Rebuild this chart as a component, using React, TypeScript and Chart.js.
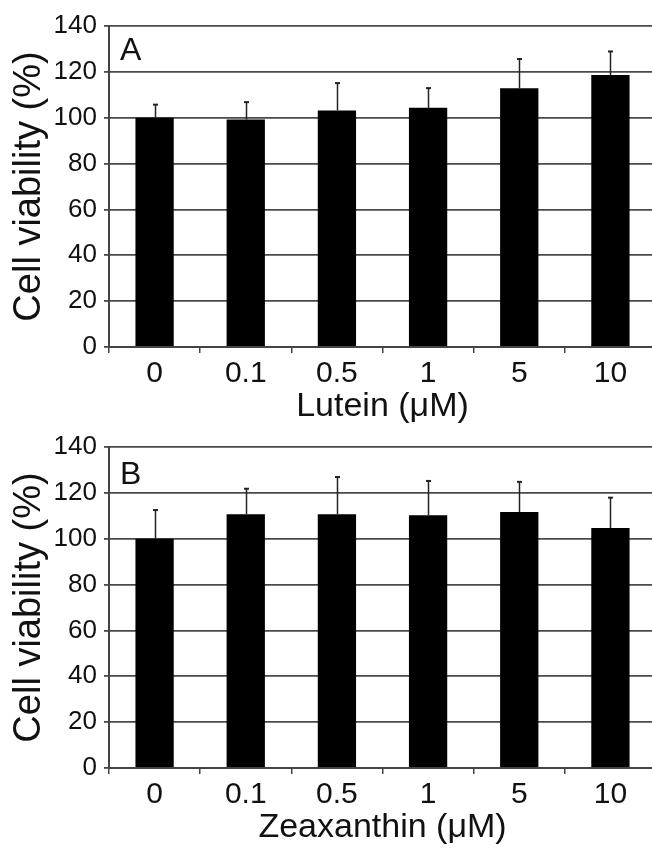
import React, { useEffect, useRef } from "react";
import { Chart, registerables } from "chart.js";

Chart.register(...registerables);

// ---- data ----
const categories = ["0", "0.1", "0.5", "1", "5", "10"];
const luteinValues = [100, 99.2, 103.2, 104.3, 112.8, 118.6];
const luteinErrors = [5.7, 7.6, 11.9, 8.6, 12.8, 10.3];
const zeaxanthinValues = [100, 110.7, 110.7, 110.2, 111.6, 104.7];
const zeaxanthinErrors = [12.5, 11.1, 16.2, 15.0, 13.2, 13.2];
const yMin = 0;
const yMax = 140;
const yStep = 20;
const yTitle = "Cell viability (%)";
const panelATitle = "Lutein (μM)";
const panelBTitle = "Zeaxanthin (μM)";

const FONT = "'Liberation Sans', Arial, Helvetica, sans-serif";

const errorBarPlugin = {
  id: "errorBars",
  afterDatasetsDraw(chart: any, _args: any, opts: any) {
    const errs: number[] = opts.errors || [];
    const meta = chart.getDatasetMeta(0);
    const yScale = chart.scales.y;
    const ctx = chart.ctx;
    const data = chart.data.datasets[0].data as number[];
    ctx.save();
    ctx.strokeStyle = "#222";
    ctx.lineWidth = 1.5;
    meta.data.forEach((bar: any, i: number) => {
      const topPx = yScale.getPixelForValue(data[i] + errs[i]);
      const x = Math.round(bar.x) + 0.5;
      ctx.beginPath();
      ctx.moveTo(x, bar.y);
      ctx.lineTo(x, topPx);
      ctx.stroke();
      ctx.beginPath();
      ctx.lineWidth = 2;
      ctx.moveTo(x - 2.5, topPx);
      ctx.lineTo(x + 2.5, topPx);
      ctx.stroke();
      ctx.lineWidth = 1.5;
    });
    ctx.restore();
  },
};

const panelLabelPlugin = {
  id: "panelLabel",
  afterDraw(chart: any, _args: any, opts: any) {
    const ctx = chart.ctx;
    const area = chart.chartArea;
    ctx.save();
    ctx.fillStyle = "#111";
    ctx.font = `32px ${FONT}`;
    ctx.textAlign = "left";
    ctx.textBaseline = "alphabetic";
    ctx.fillText(opts.text, area.left + 11, area.top + opts.dy);
    ctx.restore();
  },
};

type PanelProps = {
  top: number;
  label: string;
  labelDy: number;
  xTitle: string;
  values: number[];
  errors: number[];
};

function Panel({ top, label, labelDy, xTitle, values, errors }: PanelProps) {
  const ref = useRef<HTMLCanvasElement>(null);
  useEffect(() => {
    const chart = new Chart(ref.current as HTMLCanvasElement, {
      type: "bar",
      data: {
        labels: categories,
        datasets: [
          {
            data: values,
            backgroundColor: "#000",
            borderWidth: 0,
            barPercentage: 0.42,
            categoryPercentage: 1,
          },
        ],
      },
      plugins: [errorBarPlugin, panelLabelPlugin],
      options: {
        responsive: false,
        animation: false,
        devicePixelRatio: 1,
        layout: { padding: { top: 26, right: 4, left: 0, bottom: 0 } },
        plugins: {
          legend: { display: false },
          tooltip: { enabled: false },
          errorBars: { errors },
          panelLabel: { text: label, dy: labelDy },
        } as any,
        scales: {
          x: {
            grid: {
              display: true,
              drawOnChartArea: false,
              drawTicks: true,
              tickLength: 6,
              color: "#444",
              lineWidth: 1.5,
              offset: true,
            },
            border: { display: true, color: "#444", width: 2 },
            ticks: {
              font: { family: FONT, size: 30 },
              color: "#111",
              padding: 3,
              maxRotation: 0,
              autoSkip: false,
            },
            title: {
              display: true,
              text: xTitle,
              font: { family: FONT, size: 34 },
              color: "#111",
              padding: { top: 0, bottom: 0 },
            },
            afterFit: (s: any) => {
              s.height = 80;
            },
          },
          y: {
            min: yMin,
            max: yMax,
            ticks: {
              stepSize: yStep,
              font: { family: FONT, size: 26 },
              color: "#111",
              padding: 7,
            },
            grid: {
              color: "#4a4a4a",
              lineWidth: 1.8,
              tickLength: 5,
              drawTicks: true,
            },
            border: { display: true, color: "#444", width: 2 },
            title: {
              display: true,
              text: yTitle,
              font: { family: FONT, size: 38 },
              color: "#111",
              padding: { top: 7, bottom: 0 },
            },
            afterFit: (s: any) => {
              s.width = 109;
            },
          },
        },
      },
    });
    return () => chart.destroy();
  }, []);
  return (
    <div style={{ position: "absolute", left: 0, top, width: 660, height: 427 }}>
      <canvas ref={ref} width={660} height={427} style={{ display: "block" }} />
    </div>
  );
}

export default function App() {
  return (
    <div
      style={{
        position: "absolute",
        left: 0,
        top: 0,
        width: 652,
        height: 848,
        overflow: "hidden",
        background: "#fff",
      }}
    >
      <Panel top={0} label="A" labelDy={34} xTitle={panelATitle} values={luteinValues} errors={luteinErrors} />
      <Panel top={421} label="B" labelDy={37} xTitle={panelBTitle} values={zeaxanthinValues} errors={zeaxanthinErrors} />
    </div>
  );
}
